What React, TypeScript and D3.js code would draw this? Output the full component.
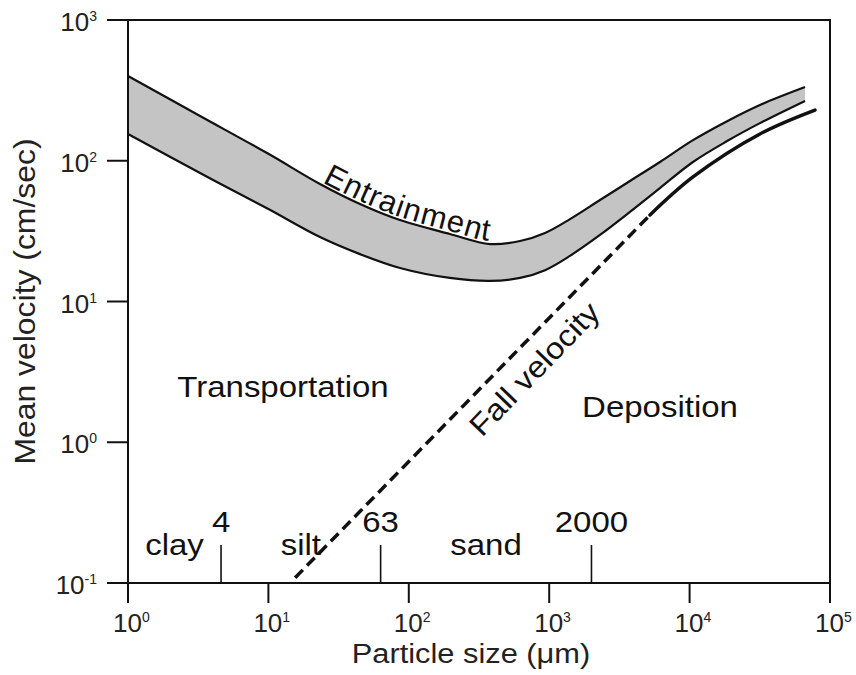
import React, { useEffect, useRef } from "react";
import * as d3 from "d3";

// entrainment band (upper and lower edge)
const grainSize = [1, 3.26, 10, 23.3, 44.9, 86.5, 196, 379, 620, 934, 1406, 2300, 3760, 6150, 10570, 18500, 31700, 66400];
const entrainUpper = [400, 208, 112, 68.4, 49.3, 37.9, 30.2, 25.6, 26.9, 30.7, 38.5, 52.6, 71.8, 98, 140, 191, 249, 334];
const entrainLower = [155, 81.8, 45.4, 28.7, 21.7, 17.3, 14.7, 14.0, 14.7, 16.7, 21.1, 29.7, 43.3, 64, 98, 138, 185, 266];

// fall velocity: dashed straight part, then solid curve
const fallDashedSize = [15.5, 5224];
const fallDashedVel = [0.109, 41.2];
const fallSolidSize = [5224, 10570, 31700, 78200];
const fallSolidVel = [41.2, 76.7, 155, 229];

const xTickExp = [0, 1, 2, 3, 4, 5];
const yTickExp = [-1, 0, 1, 2, 3];

const classBounds = [1, 4.6, 63, 2000];
const boundLabels = ["4", "63", "2000"];
const classNames = ["clay", "silt", "sand"];

const FONT = "'Liberation Sans', Arial, Helvetica, sans-serif";

export default function App() {
  const ref = useRef<SVGSVGElement>(null);

  useEffect(() => {
    const width = 856;
    const height = 675;
    const margin = { top: 20, right: 26, bottom: 92, left: 128 };

    const svg = d3.select(ref.current);
    svg.selectAll("*").remove();
    svg.attr("font-family", FONT);

    const x = d3.scaleLog().domain([1, 1e5]).range([margin.left, width - margin.right]);
    const y = d3.scaleLog().domain([0.1, 1000]).range([height - margin.bottom, margin.top]);
    const y0 = y(0.1);

    const band = grainSize.map((d, i) => ({ d, hi: entrainUpper[i], lo: entrainLower[i] }));
    const smooth = d3.curveCatmullRom.alpha(0.5);

    const area = d3
      .area<any>()
      .x((p) => x(p.d))
      .y0((p) => y(p.lo))
      .y1((p) => y(p.hi))
      .curve(smooth);

    const lineOf = (key: string, shift = 0) =>
      d3
        .line<any>()
        .x((p) => x(p.d))
        .y((p) => y(p[key]) + shift)
        .curve(smooth);

    svg.append("path").datum(band).attr("d", area).attr("fill", "#c4c4c4");
    svg.append("path").datum(band).attr("d", lineOf("hi")).attr("fill", "none").attr("stroke", "#111").attr("stroke-width", 2.2);
    svg.append("path").datum(band).attr("d", lineOf("lo")).attr("fill", "none").attr("stroke", "#111").attr("stroke-width", 2.2);

    const fallD = fallDashedSize.map((d, i) => ({ d, v: fallDashedVel[i] }));
    const fallS = fallSolidSize.map((d, i) => ({ d, v: fallSolidVel[i] }));
    svg
      .append("path")
      .datum(fallD)
      .attr("d", lineOf("v"))
      .attr("fill", "none")
      .attr("stroke", "#111")
      .attr("stroke-width", 3.5)
      .attr("stroke-dasharray", "11,6");
    svg
      .append("path")
      .datum(fallS)
      .attr("d", lineOf("v"))
      .attr("fill", "none")
      .attr("stroke", "#111")
      .attr("stroke-width", 3.5)
      .attr("stroke-linecap", "round");

    // frame
    svg
      .append("rect")
      .attr("x", x(1))
      .attr("y", y(1000))
      .attr("width", x(1e5) - x(1))
      .attr("height", y0 - y(1000))
      .attr("fill", "none")
      .attr("stroke", "#111")
      .attr("stroke-width", 2);

    // x ticks
    const xt = svg.append("g");
    xTickExp.forEach((e) => {
      const px = x(Math.pow(10, e));
      xt.append("line").attr("x1", px).attr("x2", px).attr("y1", y0).attr("y2", y0 + 20).attr("stroke", "#111").attr("stroke-width", 2);
      const t = xt.append("text").attr("x", px - 15).attr("y", y0 + 49).attr("font-size", 26).attr("fill", "#222");
      t.append("tspan").text("10");
      t.append("tspan").attr("dy", -10).attr("font-size", 14).text(String(e));
    });

    // y ticks
    const yt = svg.append("g");
    yTickExp.forEach((e) => {
      const py = y(Math.pow(10, e));
      yt.append("line").attr("x1", x(1) - 21).attr("x2", x(1)).attr("y1", py).attr("y2", py).attr("stroke", "#111").attr("stroke-width", 2);
      const t = yt.append("text").attr("x", 97).attr("y", py + 11).attr("text-anchor", "end").attr("font-size", 26).attr("fill", "#222");
      t.append("tspan").text("10");
      t.append("tspan").attr("dy", -10).attr("font-size", 14).text(String(e));
    });

    // grain size classes
    const cls = svg.append("g");
    classBounds.slice(1).forEach((b, i) => {
      const px = x(b);
      cls.append("line").attr("x1", px).attr("x2", px).attr("y1", y0).attr("y2", y0 - 38).attr("stroke", "#111").attr("stroke-width", 1.6);
      cls
        .append("text")
        .attr("transform", `translate(${px},${y0 - 51}) scale(1.1,1)`)
        .attr("text-anchor", "middle")
        .attr("font-size", 30)
        .attr("fill", "#111")
        .text(boundLabels[i]);
    });
    classNames.forEach((n, i) => {
      const px = x(Math.sqrt(classBounds[i] * classBounds[i + 1]));
      cls
        .append("text")
        .attr("transform", `translate(${px},${y0 - 28}) scale(1.1,1)`)
        .attr("text-anchor", "middle")
        .attr("font-size", 30)
        .attr("fill", "#111")
        .text(n);
    });

    // region labels
    const label = (txt: string, cx: number, cy: number) =>
      svg
        .append("text")
        .attr("transform", `translate(${cx},${cy}) scale(1.1,1)`)
        .attr("text-anchor", "middle")
        .attr("font-size", 30)
        .attr("fill", "#111")
        .text(txt);
    label("Transportation", 283, 397);
    label("Deposition", 660, 417);

    // Entrainment along the upper edge
    svg
      .append("path")
      .attr("id", "entrain-text-path")
      .datum(band.slice(2, 10))
      .attr("d", lineOf("hi", -3))
      .attr("fill", "none");
    svg
      .append("text")
      .attr("font-size", 31)
      .attr("letter-spacing", 1)
      .attr("fill", "#111")
      .append("textPath")
      .attr("href", "#entrain-text-path")
      .attr("startOffset", 62)
      .text("Entrainment");

    svg
      .append("text")
      .attr("transform", "translate(482,438) rotate(-46) scale(1.1,1)")
      .attr("font-size", 30)
      .attr("fill", "#111")
      .text("Fall velocity");

    // axis titles
    svg
      .append("text")
      .attr("transform", `translate(471,663) scale(1.1,1)`)
      .attr("text-anchor", "middle")
      .attr("font-size", 28)
      .attr("fill", "#222")
      .text("Particle size (\u03bcm)");
    svg
      .append("text")
      .attr("transform", `translate(35,${(y(1000) + y0) / 2}) rotate(-90) scale(1.1,1)`)
      .attr("text-anchor", "middle")
      .attr("font-size", 29)
      .attr("fill", "#222")
      .text("Mean velocity (cm/sec)");
  }, []);

  return (
    <svg
      ref={ref}
      width={856}
      height={675}
      style={{ position: "absolute", left: 0, top: 0, background: "#fff", display: "block" }}
    />
  );
}
